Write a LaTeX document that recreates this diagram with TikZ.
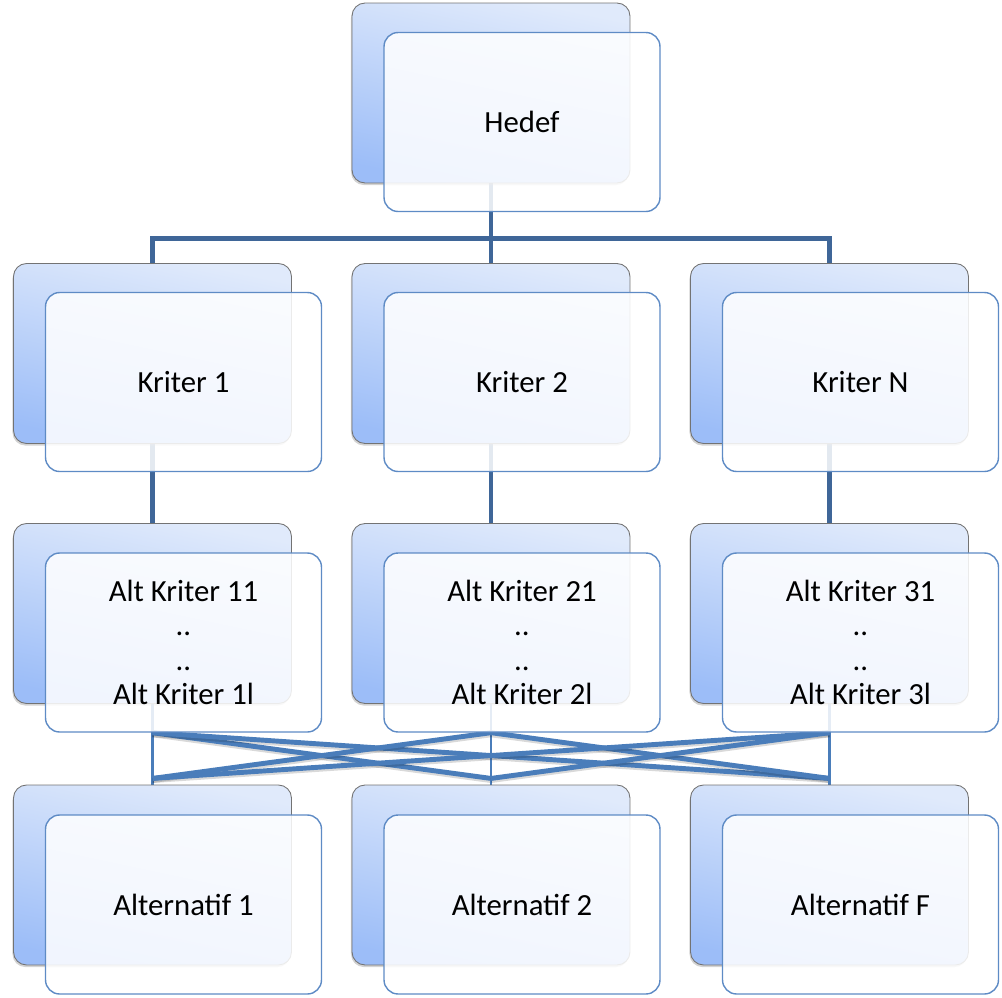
\documentclass[tikz,border=0pt]{standalone}
\usepackage{fontspec}
\setmainfont{Carlito}
\usepackage{tikz}
\usetikzlibrary{backgrounds}
\usetikzlibrary{shadows}
\definecolor{boxlight}{HTML}{E0EAFB}
\definecolor{boxdark}{HTML}{9CBDF8}
\definecolor{boxedge}{HTML}{5E8BC5}
\definecolor{linkblue}{HTML}{3F6698}
\definecolor{crossblue}{HTML}{4A7DBA}

\begin{document}
\begin{tikzpicture}[
		x=0.02cm, y=-0.02cm,
		backbox/.style={
			rectangle, rounded corners=0.26cm, draw=black!55, line width=0.5pt,
			minimum width=5.56cm, minimum height=3.6cm, inner sep=0pt,
			top color=boxlight, bottom color=boxdark, shading angle=-12,
			drop shadow={shadow xshift=-0.6pt, shadow yshift=-1.2pt, opacity=0.35}},
		frontbox/.style={
			rectangle, rounded corners=0.28cm, draw=boxedge, line width=0.8pt,
			fill=white, fill opacity=0.86, text opacity=1, draw opacity=1,
			minimum width=5.52cm, minimum height=3.58cm, inner sep=0pt,
			align=center, font=\fontsize{17.5}{19.5}\selectfont},
		link/.style={draw=linkblue, line width=2.8pt},
		thinlink/.style={draw=crossblue, line width=1.5pt},
		cross/.style={draw=crossblue, line width=2.8pt,
			preaction={draw=black, opacity=0.15, line width=2.8pt,
				transform canvas={yshift=-1.2pt}}}
	]
	\useasboundingbox (0,0) rectangle (1002,998);
	
	% goal
	\node[backbox] (hedefb) at (491,93) {};
	\node[frontbox] (hedef) at (522,122) {Hedef};
	
	% criteria, sub criteria, alternatives
	\foreach \i/\x/\n/\a in {1/152.5/1/1, 2/491/2/2, 3/829.5/N/F}{
		\node[backbox] (kb\i) at (\x,353.5) {};
		\node[frontbox] (k\i) at ({\x+31},382) {Kriter \n};
		
		\node[backbox] (ab\i) at (\x,613.5) {};
		\node[frontbox] (a\i) at ({\x+31},642.5)
			{Alt Kriter {\i}1\\..\\..\\Alt Kriter {\i}l};
		
		\node[backbox] (altb\i) at (\x,875) {};
		\node[frontbox] (alt\i) at ({\x+31},904.5) {Alternatif \a};
	}
	
	\begin{scope}[on background layer]
		\foreach \i in {1,2,3}{
			\draw[link] (hedefb.south) -- ++(0,55) -| (kb\i.north);
			\draw[link] (kb\i.south) -- (ab\i.north);
			\draw[thinlink] (ab\i.south) -- (altb\i.north);
			\foreach \j in {1,2,3}{
				\ifnum\i=\j\else
				\draw[cross] (ab\i.south |- a\i.south) -- ([yshift=3.5pt]altb\j.north);
				\fi
			}
		}
	\end{scope}
\end{tikzpicture}
\end{document}
